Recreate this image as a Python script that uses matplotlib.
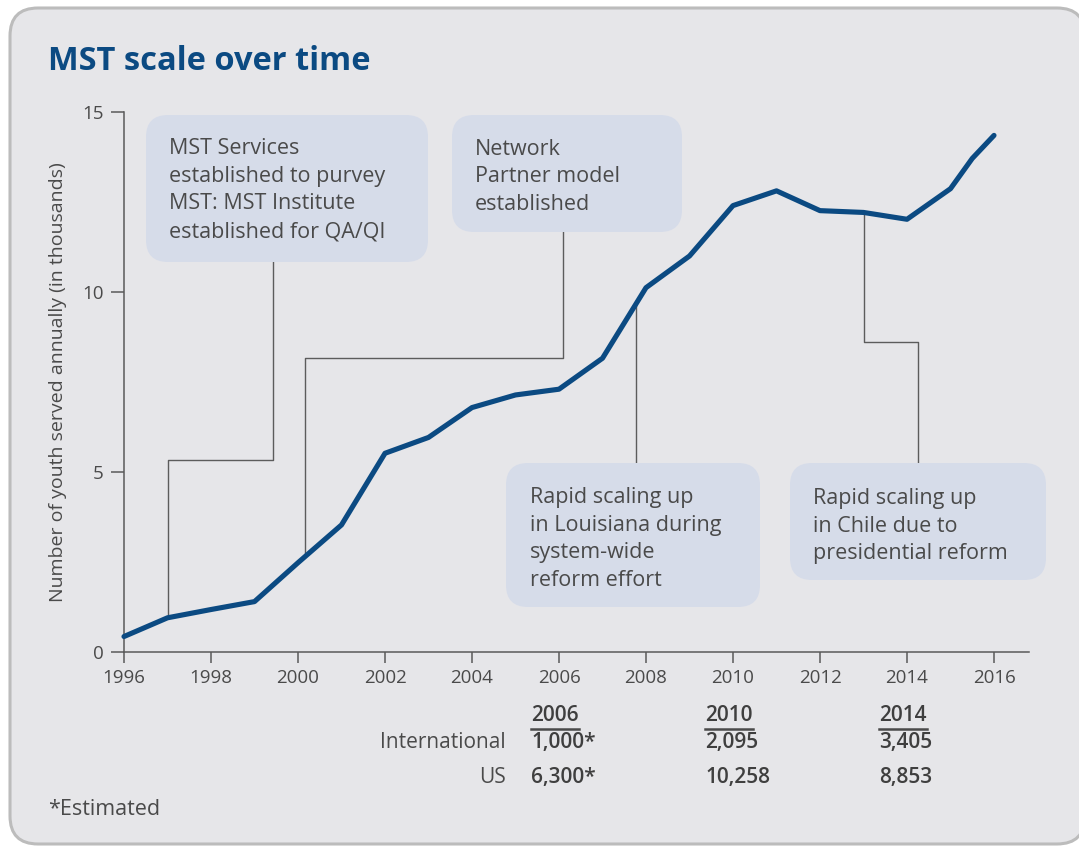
import numpy as np
import matplotlib.pyplot as plt
from matplotlib.patches import FancyBboxPatch
from matplotlib.lines import Line2D

# Youth served per year (thousands)
years = [1996, 1997, 1998, 1999, 2000, 2001, 2002, 2003, 2004, 2005, 2006,
         2007, 2008, 2009, 2010, 2011, 2012, 2013, 2014, 2015, 2015.5, 2016]
youth = [0.43, 0.95, 1.18, 1.40, 2.48, 3.53, 5.52, 5.96, 6.79, 7.14, 7.30,
         8.16, 10.12, 11.00, 12.40, 12.81, 12.26, 12.21, 12.02, 12.87, 13.71, 14.35]

# Summary table under the chart
table_years = ['2006', '2010', '2014']
table_x = [2006, 2010, 2014]
international = ['1,000*', '2,095', '3,405']
us = ['6,300*', '10,258', '8,853']

notes = [
    'MST Services\nestablished to purvey\nMST: MST Institute\nestablished for QA/QI',
    'Network\nPartner model\nestablished',
    'Rapid scaling up\nin Louisiana during\nsystem-wide\nreform effort',
    'Rapid scaling up\nin Chile due to\npresidential reform',
]

plt.rcParams['font.family'] = ['Open Sans', 'DejaVu Sans']

BG = '#e6e6e9'
BOX = '#d6dce9'
NAVY = '#0b4a82'
TXT = '#4a4a4a'
AXC = '#5a5a5a'

W, H = 1079, 846
fig = plt.figure(figsize=(W / 100, H / 100), dpi=100)
fig.patch.set_facecolor('white')
inch = fig.dpi_scale_trans


def px(x, y):
    # pixel position from the top-left corner -> inches
    return x / 100, (H - y) / 100


def fx(x, y):
    return x / W, 1 - y / H


# rounded grey panel
frame = FancyBboxPatch(px(10, 844), (1085 - 10) / 100, (844 - 8) / 100,
                       boxstyle='round,pad=0,rounding_size=0.28',
                       transform=inch, facecolor=BG, edgecolor='#bcbcbc',
                       linewidth=2.2, zorder=-1)
fig.add_artist(frame)

ax = fig.add_axes([124 / W, 1 - 652 / H, (1029 - 124) / W, (652 - 112) / H])
ax.set_facecolor('none')
ax.set_xlim(1996, 1996 + (1029 - 124) / 43.5)
ax.set_ylim(0, 15)
for s in ['top', 'right']:
    ax.spines[s].set_visible(False)
for s in ['left', 'bottom']:
    ax.spines[s].set_color(AXC)
    ax.spines[s].set_linewidth(1.1)
ax.set_xticks(range(1996, 2017, 2))
ax.set_yticks([0, 5, 10, 15])
ax.tick_params(axis='y', length=9.4, width=1.1, pad=5, color=AXC,
               labelcolor=TXT, labelsize=13.5)
ax.tick_params(axis='x', length=8, width=1.1, pad=4, color=AXC,
               labelcolor=TXT, labelsize=13.5)

ax.plot(years, youth, color=NAVY, lw=3.7, solid_joinstyle='round',
        solid_capstyle='round', zorder=5, clip_on=False)


def on_curve(x):
    return float(np.interp(x, years, youth))


# leader lines from the notes to the curve (tops hidden behind the boxes)
lk = dict(color='#5c5c5c', lw=1.0, zorder=2)
ax.plot([1999.43, 1999.43, 1997, 1997], [12, 5.33, 5.33, on_curve(1997)], **lk)
ax.plot([2006.1, 2006.1, 2000.17, 2000.17],
        [12.5, 8.18, 8.18, on_curve(2000.17)], **lk)
ax.plot([2007.76, 2007.76], [on_curve(2007.76), 4], **lk)
ax.plot([2013, 2013, 2014.25, 2014.25], [on_curve(2013), 8.61, 8.61, 4], **lk)

# note boxes: (left, top, right, bottom) in pixels, text left, text centre
boxes = [(146, 115, 428, 262, 169, 190),
         (452, 115, 682, 232, 475, 177),
         (506, 463, 760, 607, 530, 539),
         (790, 463, 1046, 580, 813, 526)]
for (l, t, r, b, tx, ty), note in zip(boxes, notes):
    p = FancyBboxPatch(px(l, b), (r - l) / 100, (b - t) / 100,
                       boxstyle='round,pad=0,rounding_size=0.22',
                       transform=inch, facecolor=BOX, edgecolor='none',
                       zorder=2)
    fig.add_artist(p)
    fig.text(*fx(tx, ty), note, ha='left', va='center', fontsize=15.5,
             color=TXT, linespacing=1.42, zorder=4)

fig.text(*fx(48, 62), 'MST scale over time', fontsize=23.5, fontweight='bold',
         color=NAVY, va='center', ha='left')
fig.text(*fx(58, 382), 'Number of youth served annually (in thousands)',
         rotation=90, ha='center', va='center', fontsize=14, color=TXT)
fig.text(*fx(48, 809), '*Estimated', fontsize=15.5, color=TXT, va='center')

# table of international / US counts
tk = dict(xycoords='data', textcoords='offset pixels', va='center',
          annotation_clip=False, fontsize=15)
headers = []
for yr, x, a, b in zip(table_years, table_x, international, us):
    headers.append(ax.annotate(yr, (x, 0), xytext=(-28, -63), ha='left',
                               color='#3f3f3f', fontweight='semibold', **tk))
    ax.annotate(a, (x, 0), xytext=(-28, -90), ha='left', color='#3f3f3f',
                fontweight='semibold', **tk)
    ax.annotate(b, (x, 0), xytext=(-28, -125), ha='left', color='#3f3f3f',
                fontweight='semibold', **tk)
ax.annotate('International', (2006, 0), xytext=(-53, -90), ha='right',
            color=TXT, **tk)
ax.annotate('US', (2006, 0), xytext=(-53, -125), ha='right', color=TXT, **tk)

fig.canvas.draw()
renderer = fig.canvas.get_renderer()
inv = fig.transFigure.inverted()
for h in headers:
    bb = h.get_window_extent(renderer)
    (x0, _), (x1, _) = inv.transform([(bb.x0, 0), (bb.x1, 0)])
    yl = 1 - 729 / H
    fig.add_artist(Line2D([x0, x1], [yl, yl], color='#4a4a4a', lw=1.8))

fig.savefig('out.png', dpi=100)
